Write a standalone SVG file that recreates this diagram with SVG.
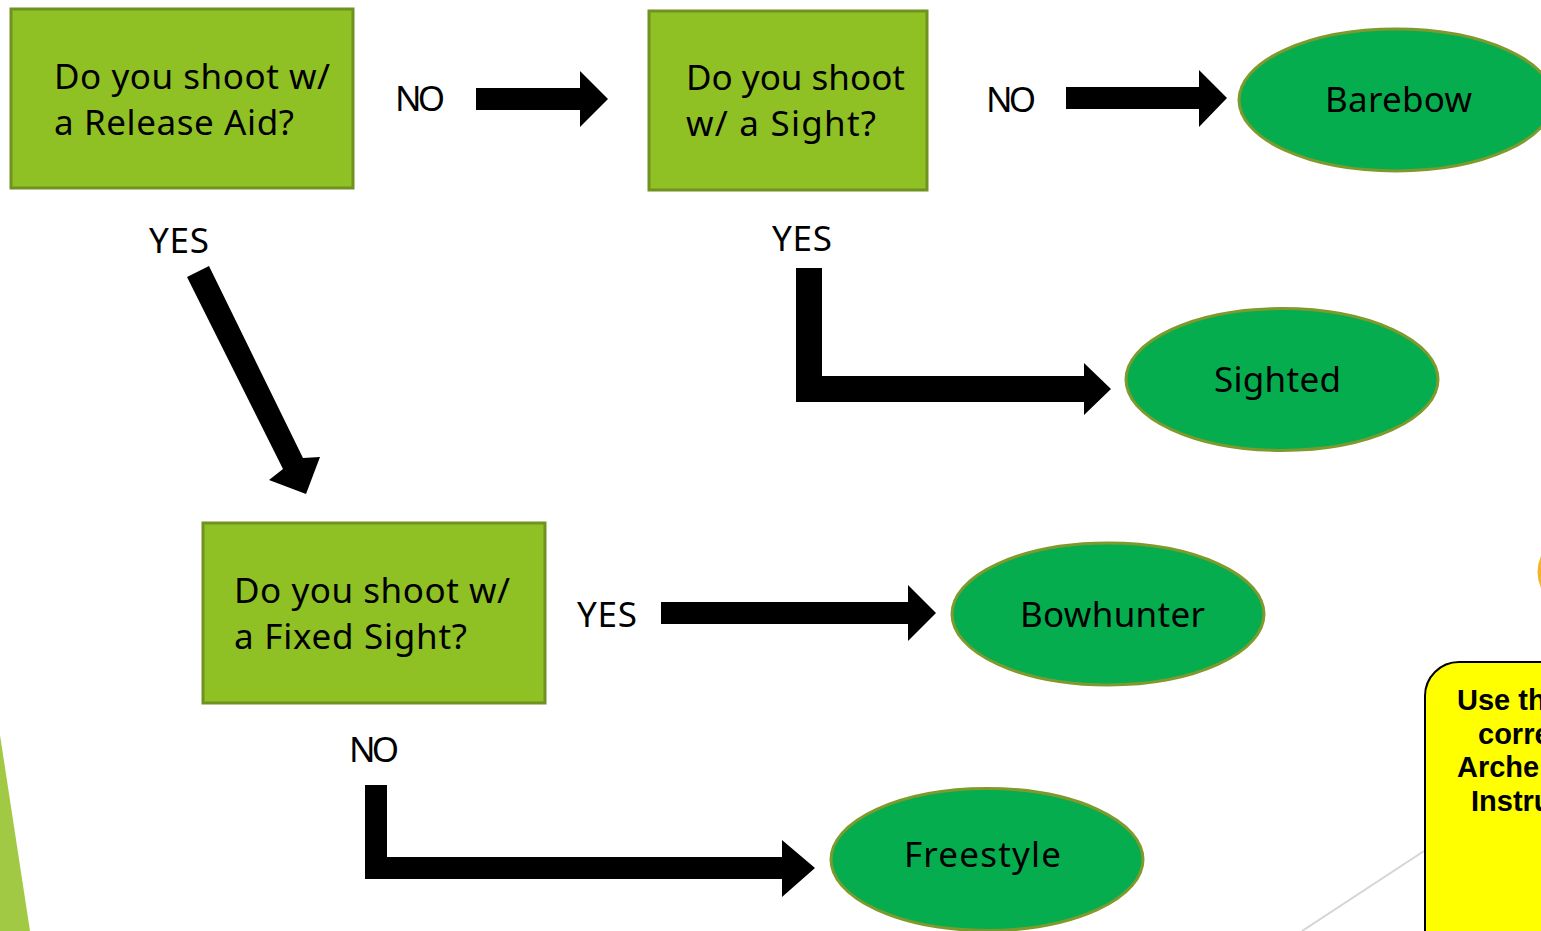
<svg xmlns="http://www.w3.org/2000/svg" width="1541" height="931" viewBox="0 0 1541 931">
<style>
.box{fill:#8fc024;stroke:#6f9220;stroke-width:3}
.oval{fill:#05ad4e;stroke:#7f9a2c;stroke-width:3}
.t{font-family:"Noto Sans","DejaVu Sans",sans-serif;font-size:35px;fill:#000}
.n{font-family:"Liberation Sans",Arial,sans-serif;font-weight:bold;font-size:29px;fill:#000}
</style>
<rect width="1541" height="931" fill="#fff"/>
<polygon points="0,735 30,931 0,931" fill="#a2c944"/>
<line x1="1424" y1="851" x2="1302" y2="931" stroke="#d6d4d4" stroke-width="2"/>
<path d="M1541,556 Q1534,572 1541,588 Z" fill="#f2b32c"/>
<g id="connectors" fill="#000">
<polygon points="476,88 580,88 580,71 608,99 580,127 580,110 476,110"/>
<polygon points="1066,87 1199,87 1199,70 1227,98 1199,127 1199,109 1066,109"/>
<polygon points="187,277 209,266 303,458 320,457 306,494 269,480 283,469"/>
<polygon points="796,268 822,268 822,376 1084,376 1084,363 1111,389 1084,415 1084,402 796,402"/>
<polygon points="661,602 908,602 908,585 936,613 908,641 908,624 661,624"/>
<polygon points="365,785 387,785 387,857 782,857 782,840 815,868 782,897 782,879 365,879"/>
</g>
<g id="node-release"><rect class="box" x="11" y="9" width="342" height="179"/><text class="t" x="54" y="89" textLength="276">Do you shoot w/</text><text class="t" x="54" y="135" textLength="240">a Release Aid?</text></g>
<g id="node-sight"><rect class="box" x="649" y="11" width="278" height="179"/><text class="t" x="686" y="90" textLength="219">Do you shoot</text><text class="t" x="686" y="136" textLength="190">w/ a Sight?</text></g>
<g id="node-fixed"><rect class="box" x="203" y="523" width="342" height="180"/><text class="t" x="234" y="603" textLength="276">Do you shoot w/</text><text class="t" x="234" y="649" textLength="233">a Fixed Sight?</text></g>
<g id="node-barebow"><ellipse class="oval" cx="1396" cy="100" rx="157" ry="71"/><text class="t" x="1325" y="112" textLength="147">Barebow</text></g>
<g id="node-sighted"><ellipse class="oval" cx="1282" cy="379.500" rx="156" ry="71"/><text class="t" x="1214" y="392" textLength="127">Sighted</text></g>
<g id="node-bowhunter"><ellipse class="oval" cx="1108" cy="614" rx="156" ry="71"/><text class="t" x="1020" y="627" textLength="185">Bowhunter</text></g>
<g id="node-freestyle"><ellipse class="oval" cx="987" cy="859.500" rx="156" ry="71"/><text class="t" x="904" y="867" textLength="157">Freestyle</text></g>
<g id="labels">
<text class="t" x="395" y="111" textLength="50">NO</text>
<text class="t" x="986" y="112" textLength="50">NO</text>
<text class="t" x="149" y="253" textLength="60">YES</text>
<text class="t" x="772" y="251" textLength="60">YES</text>
<text class="t" x="577" y="627" textLength="60">YES</text>
<text class="t" x="349" y="762" textLength="50">NO</text>
</g>
<g id="note"><rect x="1425" y="662" width="160" height="320" rx="34" fill="#ffff00" stroke="#000" stroke-width="2"/>
<text class="n" x="1457" y="710">Use th</text><text class="n" x="1478" y="744">corre</text><text class="n" x="1457" y="777">Arche</text><text class="n" x="1471" y="811">Instru</text></g>
</svg>
